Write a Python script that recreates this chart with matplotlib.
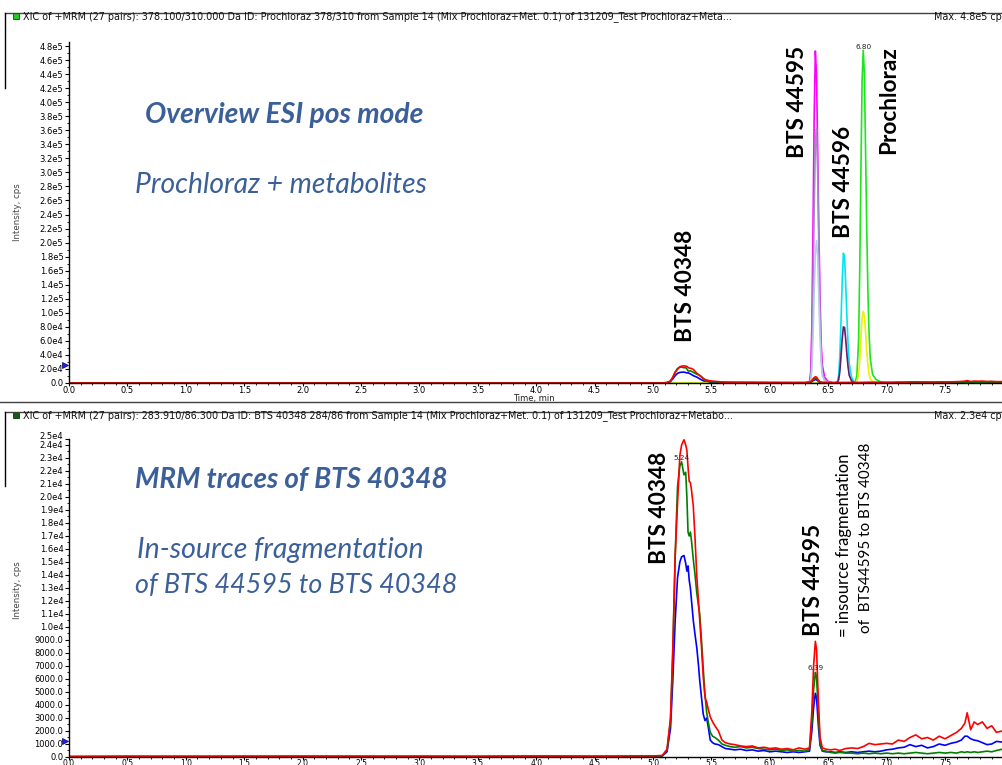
import numpy as np
import matplotlib
matplotlib.use("Agg")
import matplotlib.pyplot as plt
from matplotlib.lines import Line2D
from matplotlib.patches import Rectangle
from matplotlib.ticker import FixedLocator, MultipleLocator

W, H = 1002, 765

# ---------------- data ----------------
# MRM traces of BTS 40348 (three transitions), time in min, intensity in cps
t_mrm = [0.0, 0.5, 1.0, 1.5, 2.0, 2.5, 3.0, 3.5, 4.0, 4.5, 5.0, 5.08, 5.12, 5.15, 5.17,
         5.19, 5.21, 5.23, 5.245, 5.265, 5.28, 5.29, 5.30, 5.31, 5.32, 5.33, 5.345, 5.36,
         5.375, 5.39, 5.40, 5.415, 5.43, 5.445, 5.46, 5.475, 5.49, 5.51, 5.53, 5.56, 5.59,
         5.62, 5.66, 5.70, 5.75, 5.80, 5.85, 5.90, 5.95, 6.00, 6.05, 6.10, 6.15, 6.20, 6.25,
         6.30, 6.34, 6.36, 6.375, 6.39, 6.40, 6.415, 6.43, 6.45, 6.48, 6.52, 6.56, 6.60,
         6.65, 6.70, 6.75, 6.80, 6.85, 6.90, 6.95, 7.00, 7.05, 7.10, 7.15, 7.20, 7.25, 7.30,
         7.35, 7.40, 7.45, 7.50, 7.55, 7.60, 7.64, 7.67, 7.69, 7.72, 7.75, 7.78, 7.82, 7.86,
         7.90, 7.94, 7.99]
red_mrm = [40, 60, 30, 70, 50, 40, 60, 50, 70, 60, 80, 120, 600, 3000, 8500,
           15500, 19500, 23200, 24000, 24400, 24000, 23600, 22300, 21200, 21100, 20500, 19300, 16800,
           13900, 11900, 10500, 8500, 6200, 4600, 4200, 3600, 3100, 2700, 2400, 2000, 1300,
           1100, 1000, 950, 850, 800, 850, 700, 750, 650, 700, 600, 650, 550, 700,
           600, 700, 3500, 7000, 8900, 8300, 4500, 1500, 700, 600, 550, 600, 500,
           650, 700, 650, 800, 1050, 950, 1000, 1050, 1000, 1300, 1200, 1500, 1700, 1400,
           1500, 1300, 1600, 1400, 1650, 1900, 2200, 2600, 3400, 2100, 2700, 2500, 2700, 2200,
           2400, 1900, 2000]
green_mrm = [30, 40, 50, 30, 60, 40, 50, 30, 60, 40, 60, 100, 500, 2800, 8000,
             15500, 20800, 22400, 22700, 21700, 21900, 20000, 17300, 17000, 17300, 16600, 15200, 14000,
             12600, 11600, 11000, 9000, 6800, 4800, 3400, 2600, 1900, 1600, 1500, 1300, 1000,
             900, 800, 750, 800, 700, 750, 650, 600, 550, 600, 500, 550, 450, 500,
             450, 600, 2700, 5200, 6500, 6200, 3500, 1100, 500, 450, 350, 300, 350,
             300, 300, 250, 300, 250, 300, 250, 300, 250, 300, 250, 300, 350, 300,
             250, 300, 350, 300, 350, 300, 400, 350, 400, 350, 400, 350, 400, 450,
             400, 500, 600]
blue_mrm = [20, 30, 40, 30, 40, 50, 30, 40, 50, 40, 50, 80, 400, 2200, 6000,
            10500, 13800, 15000, 15400, 15500, 14900, 14300, 14700, 13600, 13000, 12000, 10500, 9400,
            8400, 7000, 5900, 4600, 3300, 2800, 3000, 2200, 1300, 1100, 1000, 950, 800,
            650, 600, 550, 600, 500, 550, 450, 500, 400, 450, 400, 350, 400, 350,
            400, 450, 2000, 3800, 4900, 4600, 2500, 900, 450, 400, 400, 350, 400,
            350, 400, 350, 400, 450, 400, 450, 550, 600, 700, 750, 950, 800, 900,
            700, 800, 1000, 900, 1050, 1150, 1300, 1600, 1600, 1400, 1300, 1250, 1100, 950,
            1000, 1200, 1150]

# BTS 44595 transitions
t_44595 = [0.0, 6.30, 6.34, 6.35, 6.36, 6.37, 6.38, 6.39, 6.40, 6.41, 6.42, 6.43, 6.44,
           6.45, 6.47, 6.50, 6.55, 7.99]
magenta_44595 = [0, 0, 2000, 15000, 80000, 220000, 380000, 473000, 440000, 330000, 215000,
                 120000, 55000, 25000, 8000, 2000, 0, 0]
lilac_44595 = [0, 0, 1000, 6000, 40000, 130000, 250000, 340000, 362000, 300000, 190000,
               95000, 40000, 15000, 4000, 1000, 0, 0]
lightblue_44595 = [0, 0, 500, 3000, 18000, 65000, 130000, 185000, 203000, 180000, 120000,
                   65000, 28000, 10000, 3000, 800, 0, 0]

# BTS 44596 transitions
t_44596 = [0.0, 6.55, 6.58, 6.59, 6.60, 6.61, 6.62, 6.63, 6.64, 6.65, 6.66, 6.67, 6.68,
           6.70, 6.72, 6.75, 7.99]
cyan_44596 = [0, 0, 2000, 12000, 40000, 90000, 145000, 185000, 180000, 140000, 95000, 55000,
              28000, 8000, 2000, 0, 0]
purple_44596 = [0, 0, 800, 5000, 17000, 39000, 63000, 80000, 79000, 62000, 41000, 23000,
                11000, 3000, 800, 0, 0]

# Prochloraz transitions
t_prochloraz = [0.0, 6.70, 6.73, 6.745, 6.76, 6.77, 6.78, 6.79, 6.80, 6.81, 6.82, 6.83,
                6.84, 6.85, 6.86, 6.88, 6.91, 6.95, 7.00, 7.99]
lime_prochloraz = [0, 0, 1000, 10000, 60000, 160000, 300000, 430000, 474000, 440000, 330000,
                   220000, 130000, 70000, 35000, 12000, 5000, 1500, 0, 0]
yellow_prochloraz = [0, 0, 200, 2000, 12000, 33000, 63000, 92000, 102000, 95000, 72000,
                     46000, 26000, 13000, 6000, 2000, 700, 200, 0, 0]

# axis ticks
x_ticks = [0.0, 0.5, 1.0, 1.5, 2.0, 2.5, 3.0, 3.5, 4.0, 4.5, 5.0, 5.5, 6.0, 6.5, 7.0, 7.5]
y_ticks_top = list(range(0, 480001, 20000))
y_ticks_bottom = list(range(0, 24001, 1000))
y_max_top = 485800
y_max_bottom = 24460
y_top_label_bottom = "2.5e4"
threshold_top = [25600]
threshold_bottom = [1230]

rt_label_top = [6.80]
rt_label_bottom = [5.24, 6.39]

header_top = ("XIC of +MRM (27 pairs): 378.100/310.000 Da ID: Prochloraz 378/310 from Sample 14 "
              "(Mix Prochloraz+Met. 0.1) of 131209_Test Prochloraz+Meta...")
header_bottom = ("XIC of +MRM (27 pairs): 283.910/86.300 Da ID: BTS 40348 284/86 from Sample 14 "
                 "(Mix Prochloraz+Met. 0.1) of 131209_Test Prochloraz+Metabo...")
max_top = "Max. 4.8e5 cps"
max_bottom = "Max. 2.3e4 cps"

# ---------------- styling ----------------
C_RED, C_GREEN, C_BLUE = "#ff0000", "#008000", "#0000ff"
C_MAG, C_LILAC, C_LB = "#ff00ff", "#a08cc0", "#b8cce8"
C_CYAN, C_PURPLE = "#00e5f0", "#6a1a6a"
C_LIME, C_YEL = "#1ee61e", "#f0f000"
C_TXT = "#3b5f98"
TICK_FONT = ["DejaVu Sans"]
ANN_FONT = ["Lato", "Open Sans", "DejaVu Sans"]
TICK_SIZE = 6.0

plt.rcParams["font.family"] = ["DejaVu Sans"]


def px(x, y):
    return x / W, 1 - y / H


def fmt(v):
    if v == 0:
        return "0.0"
    if v < 10000:
        return f"{v:.1f}"
    e = int(np.floor(np.log10(v)))
    return f"{v / 10**e:.1f}e{e}"


fig = plt.figure(figsize=(W / 100, H / 100), dpi=100)
fig.patch.set_facecolor("white")

ax1 = fig.add_axes([69 / W, 1 - 383 / H, 1 - 69 / W, (383 - 42) / H])
ax2 = fig.add_axes([69 / W, 1 - 757 / H, 1 - 69 / W, (757 - 439) / H])

for ax in (ax1, ax2):
    ax.set_xlim(0, 7.988)
    for s in ("top", "right"):
        ax.spines[s].set_visible(False)
    for s in ("left", "bottom"):
        ax.spines[s].set_linewidth(1.0)
        ax.spines[s].set_color("black")
    ax.xaxis.set_major_locator(FixedLocator(x_ticks))
    ax.set_xticklabels([f"{v:.1f}" for v in x_ticks])
    ax.xaxis.set_minor_locator(MultipleLocator(0.1))
    ax.tick_params(axis="y", which="major", direction="out", length=3, width=0.8,
                   labelsize=TICK_SIZE, pad=1.0, colors="black")
    ax.tick_params(axis="x", which="major", direction="out", length=2.2, width=0.8,
                   labelsize=TICK_SIZE, pad=0.2, colors="black")
    ax.tick_params(axis="both", which="minor", direction="out", length=1.6, width=0.6)
    ax.patch.set_alpha(0)

# bottom panel x labels sit right at the figure edge, as in the reference
ax2.tick_params(axis="x", which="major", length=1.8, pad=0.0, labelsize=5.5)
for ax in (ax1, ax2):
    for lab in ax.get_xticklabels() + ax.get_yticklabels():
        lab.set_family(TICK_FONT)

# top panel
lw = 1.2
ax1.plot(t_44595, magenta_44595, color=C_MAG, lw=lw)
ax1.plot(t_44595, lilac_44595, color=C_LILAC, lw=lw)
ax1.plot(t_44595, lightblue_44595, color=C_LB, lw=lw)
ax1.plot(t_44596, cyan_44596, color=C_CYAN, lw=lw)
ax1.plot(t_44596, purple_44596, color=C_PURPLE, lw=lw)
ax1.plot(t_prochloraz, lime_prochloraz, color=C_LIME, lw=lw)
ax1.plot(t_prochloraz, yellow_prochloraz, color=C_YEL, lw=lw)
ax1.plot(t_mrm, blue_mrm, color=C_BLUE, lw=lw)
ax1.plot(t_mrm, green_mrm, color=C_GREEN, lw=lw)
ax1.plot(t_mrm, red_mrm, color=C_RED, lw=lw)
ax1.set_ylim(0, y_max_top)
ax1.yaxis.set_major_locator(FixedLocator(y_ticks_top))
ax1.set_yticklabels([fmt(v) for v in y_ticks_top], family=TICK_FONT)
ax1.yaxis.set_minor_locator(MultipleLocator(10000))
for rt in rt_label_top:
    ax1.text(rt, np.interp(rt, t_prochloraz, lime_prochloraz), f"{rt:.2f}", ha="center",
             va="bottom", fontsize=5.2, color="#222222")

# bottom panel
ax2.plot(t_mrm, blue_mrm, color=C_BLUE, lw=lw)
ax2.plot(t_mrm, green_mrm, color=C_GREEN, lw=lw)
ax2.plot(t_mrm, red_mrm, color=C_RED, lw=lw)
ax2.set_ylim(0, y_max_bottom)
ax2.yaxis.set_major_locator(FixedLocator(y_ticks_bottom + [y_max_bottom]))
ax2.set_yticklabels([fmt(v) for v in y_ticks_bottom] + [""], family=TICK_FONT)
ax2.yaxis.set_minor_locator(MultipleLocator(500))
ax2.annotate(y_top_label_bottom, xy=(0, 1), xycoords="axes fraction", xytext=(-4.0, 1.6),
             textcoords="offset points", ha="right", va="center", fontsize=TICK_SIZE,
             family=TICK_FONT, color="black", annotation_clip=False)
for rt in rt_label_bottom:
    ax2.text(rt, np.interp(rt, t_mrm, green_mrm) + 150, f"{rt:.2f}", ha="center",
             va="bottom", fontsize=5.2, color="#222222")

# threshold markers
ax1.plot([-0.035] * len(threshold_top), threshold_top, marker=">", ms=5, color="#2020ff",
         mec="#000060", mew=0.5, ls="none", clip_on=False)
ax2.plot([-0.035] * len(threshold_bottom), threshold_bottom, marker=">", ms=5, color="#2020ff",
         mec="#000060", mew=0.5, ls="none", clip_on=False)

# frame lines / headers
LC = "#404040"
fig.add_artist(Line2D([5 / W, 1], [1 - 13 / H] * 2, color=LC, lw=1.0, transform=fig.transFigure))
fig.add_artist(Line2D([5 / W, 5 / W], [1 - 13 / H, 1 - 88 / H], color="black", lw=1.0,
                      transform=fig.transFigure))
fig.add_artist(Line2D([0, 1], [1 - 402 / H] * 2, color=LC, lw=1.0, transform=fig.transFigure))
fig.add_artist(Line2D([5 / W, 1], [1 - 412 / H] * 2, color=LC, lw=1.0, transform=fig.transFigure))
fig.add_artist(Line2D([5 / W, 5 / W], [1 - 412 / H, 1 - 486 / H], color="black", lw=1.0,
                      transform=fig.transFigure))

fig.add_artist(Rectangle(px(13, 19), 6 / W, 6 / H, transform=fig.transFigure,
                         facecolor="#22cc22", edgecolor="#204020", lw=0.6))
fig.add_artist(Rectangle(px(13, 418), 6 / W, 6 / H, transform=fig.transFigure,
                         facecolor="#106010", edgecolor="#103010", lw=0.6))

HDR = 6.9
fig.text(*px(23, 17), header_top, fontsize=HDR, va="center", ha="left", color="#111111")
fig.text(*px(23, 416), header_bottom, fontsize=HDR, va="center", ha="left", color="#111111")
fig.text(*px(934, 17), max_top, fontsize=HDR, va="center", ha="left", color="#111111")
fig.text(*px(934, 416), max_bottom, fontsize=HDR, va="center", ha="left", color="#111111")

fig.text(*px(18, 212), "Intensity, cps", rotation=90, fontsize=6.2, ha="center", va="center",
         color="#444444")
fig.text(*px(18, 590), "Intensity, cps", rotation=90, fontsize=6.2, ha="center", va="center",
         color="#444444")
fig.text(*px(513, 398.5), "Time, min", fontsize=6.0, ha="left", va="center", color="#222222")

# annotations
fig.text(*px(145, 115), "Overview ESI pos mode", fontsize=20.3, fontweight="bold",
         fontstyle="italic", color=C_TXT, ha="left", va="center", family=ANN_FONT)
fig.text(*px(135, 185), "Prochloraz + metabolites", fontsize=20.3, fontstyle="italic",
         color=C_TXT, ha="left", va="center", family=ANN_FONT)
fig.text(*px(135, 480), "MRM traces of BTS 40348", fontsize=20.0, fontweight="bold",
         fontstyle="italic", color=C_TXT, ha="left", va="center", family=ANN_FONT)
fig.text(*px(137, 550), "In-source fragmentation", fontsize=20.5, fontstyle="italic",
         color=C_TXT, ha="left", va="center", family=ANN_FONT)
fig.text(*px(135, 585), "of BTS 44595 to BTS 40348", fontsize=19.4, fontstyle="italic",
         color=C_TXT, ha="left", va="center", family=ANN_FONT)

for (x, y, s) in [(685, 286, "BTS 40348"), (798, 102, "BTS 44595"), (844, 182, "BTS 44596"),
                  (889, 100, "Prochloraz"), (659, 508, "BTS 40348"), (814, 580, "BTS 44595")]:
    fig.text(*px(x, y), s, rotation=90, fontsize=16.3, fontweight="bold", color="black",
             ha="center", va="center", family=ANN_FONT)
fig.text(*px(844, 545), "= insource fragmentation", rotation=90, fontsize=12, color="black",
         ha="center", va="center", family=ANN_FONT)
fig.text(*px(866, 538), "of  BTS44595 to BTS 40348", rotation=90, fontsize=11, color="black",
         ha="center", va="center", family=ANN_FONT)

fig.savefig("out.png", dpi=100)
